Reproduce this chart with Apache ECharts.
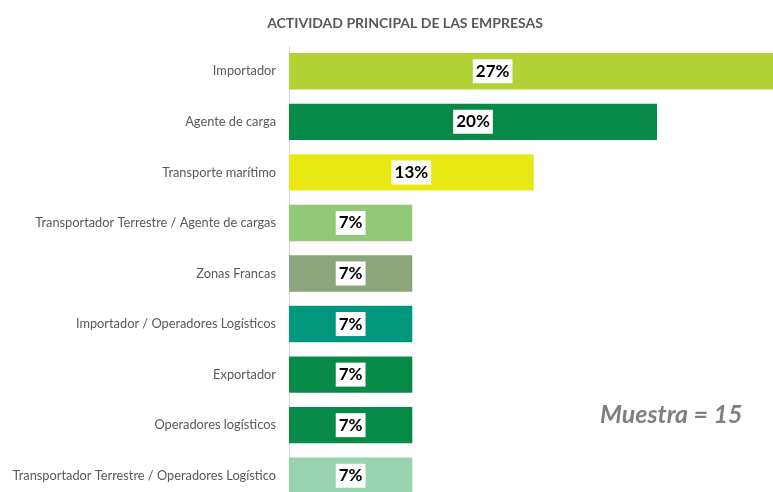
<!DOCTYPE html>
<html>
<head>
<meta charset="UTF-8">
<title>Actividad principal de las empresas</title>
<script src="https://cdn.jsdelivr.net/npm/echarts@6/dist/echarts.min.js"></script>
<style>
  html, body { margin: 0; padding: 0; background: #fff; }
  #main { width: 773px; height: 492px; }
</style>
</head>
<body>
<div id="main"></div>
<script>
// categorias de arriba hacia abajo
var categorias = [
  'Importador',
  'Agente de carga',
  'Transporte marítimo',
  'Transportador Terrestre / Agente de cargas',
  'Zonas Francas',
  'Importador / Operadores Logísticos',
  'Exportador',
  'Operadores logísticos',
  'Transportador Terrestre / Operadores Logístico'
];
// porcentaje sobre muestra de 15
var valores = [26.7, 20, 13.3, 6.7, 6.7, 6.7, 6.7, 6.7, 6.7];
var colores = ['#b2d235', '#078a48', '#e8e814', '#91c977', '#8ba57d', '#00977d', '#078a48', '#078a48', '#97d3ae'];

var chart = echarts.init(document.getElementById('main'));

var datos = valores.map(function (v, i) {
  var d = { value: v, itemStyle: { color: colores[i] } };
  if (i === 0) d.label = { offset: [-42, 0] };
  return d;
});

var option = {
  animation: false,
  title: {
    text: 'ACTIVIDAD PRINCIPAL DE LAS EMPRESAS',
    left: 400,
    textAlign: 'center',
    top: 11,
    textStyle: { fontFamily: 'Lato', fontSize: 14, fontWeight: 'bold', color: '#595959' }
  },
  graphic: [{
    type: 'text',
    left: 600,
    top: 402,
    style: {
      text: 'Muestra = 15',
      font: 'italic bold 25px Lato',
      fill: '#7f7f7f'
    }
  }],
  grid: { left: 289, top: 46, width: 552, height: 455, outerBoundsMode: 'none', containLabel: false },
  xAxis: {
    type: 'value',
    min: 0,
    max: 30,
    show: false
  },
  yAxis: {
    type: 'category',
    inverse: true,
    data: categorias,
    axisLine: { show: true, lineStyle: { color: '#d9d9d9', width: 1 } },
    axisTick: { show: false },
    axisLabel: { color: '#595959', fontFamily: 'Lato', fontSize: 12.8, margin: 13 }
  },
  series: [{
    type: 'bar',
    data: datos,
    barWidth: '72%',
    label: {
      show: true,
      position: 'inside',
      formatter: function (p) { return Math.round(p.value) + '%'; },
      color: '#000',
      backgroundColor: '#fff',
      fontFamily: 'Lato',
      fontWeight: 'bold',
      fontSize: 17,
      padding: [4, 3, 3, 3]
    }
  }]
};
chart.setOption(option);
</script>
</body>
</html>
